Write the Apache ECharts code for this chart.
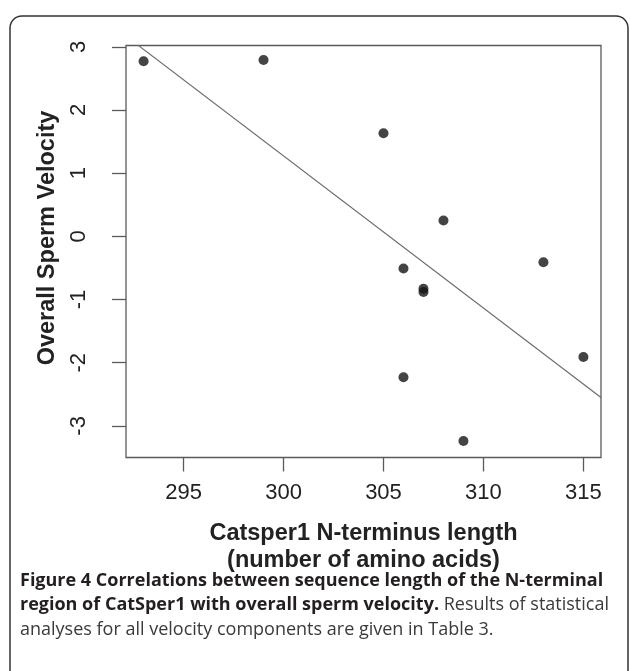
<!DOCTYPE html>
<html>
<head>
<meta charset="utf-8">
<script src="https://cdn.jsdelivr.net/npm/echarts@6/dist/echarts.min.js"></script>
<style>
html,body{margin:0;padding:0;background:#fff;}
#c{width:630px;height:671px;}
</style>
</head>
<body>
<div id="c"></div>
<script>
// Data
const lengths = [293, 299, 305, 306, 306, 307, 307, 308, 309, 313, 315];
const velocity = [2.77, 2.79, 1.63, -0.51, -2.23, -0.83, -0.88, 0.25, -3.24, -0.41, -1.91];
const xTicks = [295, 300, 305, 310, 315];
const yTicks = [-3, -2, -1, 0, 1, 2, 3];
const fitX = [292.12, 315.88];
const fitY = [3.17, -2.55];

const points = lengths.map((x, i) => [x, velocity[i]]);
const fitLine = fitX.map((x, i) => [x, fitY[i]]);

const chart = echarts.init(document.getElementById('c'));
const txt = '#222';
const axisCol = '#5a5a5a';
const font = 'Liberation Sans';
const capFont = 'Open Sans';

chart.setOption({
  animation: false,
  backgroundColor: '#fff',
  grid: {left: 126, top: 45.5, right: 29, bottom: 213.5, show: true, borderColor: axisCol, borderWidth: 1.3, containLabel: false},
  xAxis: {
    type: 'value', min: 292.12, max: 315.88,
    axisLine: {show: false, onZero: false}, splitLine: {show: false},
    axisTick: {show: true, customValues: xTicks, length: 14, lineStyle: {color: axisCol, width: 1.3}},
    axisLabel: {customValues: xTicks, fontSize: 22, color: txt, margin: 24, fontFamily: font},
    name: 'Catsper1 N-terminus length\n(number of amino acids)',
    nameLocation: 'middle', nameGap: 63,
    nameTextStyle: {fontWeight: 'bold', fontSize: 23.5, lineHeight: 27, color: txt, fontFamily: font}
  },
  yAxis: {
    type: 'value', min: -3.5, max: 3.02,
    axisLine: {show: false, onZero: false}, splitLine: {show: false},
    axisTick: {show: true, customValues: yTicks, length: 14, lineStyle: {color: axisCol, width: 1.3}},
    axisLabel: {customValues: yTicks, fontSize: 22, color: txt, margin: 36, rotate: 90, fontFamily: font},
    name: 'Overall Sperm Velocity',
    nameLocation: 'middle', nameGap: 66,
    nameTextStyle: {fontWeight: 'bold', fontSize: 23.5, color: txt, fontFamily: font, padding: [0, 0, 0, 27]}
  },
  series: [
    {type: 'line', data: fitLine, showSymbol: false, clip: true, silent: true,
     lineStyle: {color: '#6a6a6a', width: 1.1}},
    {type: 'scatter', data: points, symbolSize: 10, itemStyle: {color: '#151515'}}
  ],
  graphic: [
    {type: 'rect', shape: {x: 10, y: 16, width: 618, height: 720, r: 12},
     style: {fill: 'none', stroke: '#333', lineWidth: 1.5}, silent: true},
    {type: 'text', left: 20, top: 571.5,
     style: {
       text: '{b|Figure 4 Correlations between sequence length of the N-terminal}\n{b|region of CatSper1 with overall sperm velocity.}{n| Results of statistical}\n{n|analyses for all velocity components are given in Table 3.}',
       rich: {
         b: {fontWeight: 'bold', fontSize: 18, lineHeight: 24.5, fontFamily: capFont, fill: '#231f20'},
         n: {fontWeight: 'normal', fontSize: 18, lineHeight: 24.5, fontFamily: capFont, fill: '#3a3a3a'}
       }
     }}
  ]
});
</script>
</body>
</html>
